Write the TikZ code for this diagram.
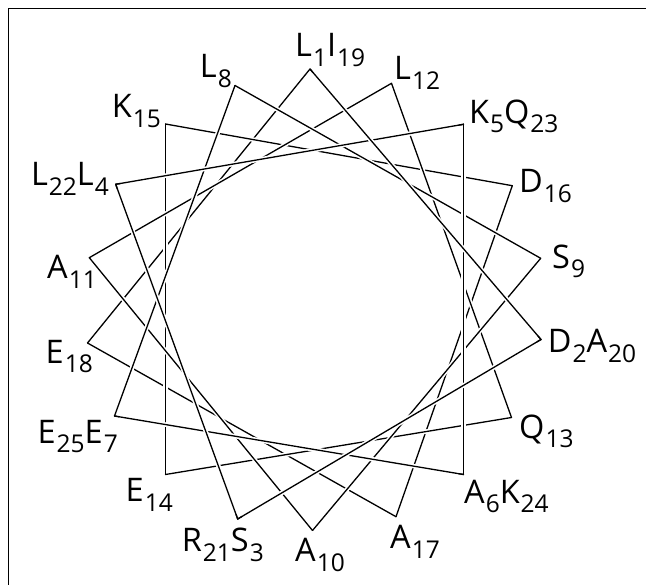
\documentclass[tikz,border=0pt]{standalone}
\usepackage{fontspec}
\setmainfont{Open Sans}
\newcommand\sbs[1]{\kern1pt\raisebox{-9.7pt}{\fontsize{24.5}{25}\selectfont #1}}
\begin{document}
\begin{tikzpicture}[x=1pt,y=-1pt,
  halo/.style={white,line width=4.5pt,shorten >=5pt,shorten <=5pt},
  seg/.style={black,line width=1.3pt,line cap=round},
  lbl/.style={inner sep=0pt,font=\fontsize{32.5}{33}\selectfont},
  frame/.style={black,line width=1pt}]
\useasboundingbox (0,0) rectangle (646,585);
\fill[white] (0,0) rectangle (646,585);
\draw[frame] (8.5,585) -- (8.5,9) -- (646,9);
% helix positions
\coordinate (p1) at (310,69);
\coordinate (p2) at (541,339.5);
\coordinate (p3) at (237.7,519);
\coordinate (p4) at (115.7,184.3);
\coordinate (p5) at (463.5,124.3);
\coordinate (p6) at (463.5,474.5);
\coordinate (p7) at (114.5,416);
\coordinate (p8) at (235,85.5);
\coordinate (p9) at (540.7,258.3);
\coordinate (p10) at (312.5,530.5);
\coordinate (p11) at (89.3,257.7);
\coordinate (p12) at (391.5,83.3);
\coordinate (p13) at (511.5,417.5);
\coordinate (p14) at (165.5,474.5);
\coordinate (p15) at (165.5,124);
\coordinate (p16) at (512.3,185.7);
\coordinate (p17) at (396,516.7);
\coordinate (p18) at (87.5,343);
% connections residue r -> r+1, earlier residues on top
\foreach \r in {24,23,...,1}{
  \pgfmathtruncatemacro\pa{mod(\r-1,18)+1}
  \pgfmathtruncatemacro\pb{mod(\r,18)+1}
  \draw[halo] (p\pa) -- (p\pb);
  \draw[seg] (p\pa) -- (p\pb);
}
% labels
\node[lbl,anchor=base west] (l1) at (295,56.7) {L\sbs{1}I\sbs{19}};
\node[lbl,anchor=base east] (l8) at (232,78) {L\sbs{8}};
\node[lbl,anchor=base west] (l12) at (394,80) {L\sbs{12}};
\node[lbl,anchor=base east] (l15) at (161,118) {K\sbs{15}};
\node[lbl,anchor=base west] (l5) at (469,123.3) {K\sbs{5}Q\sbs{23}};
\node[lbl,anchor=base east] (l4) at (109,186) {L\sbs{22}L\sbs{4}};
\node[lbl,anchor=base west] (l16) at (519,192.7) {D\sbs{16}};
\node[lbl,anchor=base east] (l11) at (97,279) {A\sbs{11}};
\node[lbl,anchor=base west] (l9) at (552,268.3) {S\sbs{9}};
\node[lbl,anchor=base east] (l18) at (93,363.3) {E\sbs{18}};
\node[lbl,anchor=base west] (l2) at (547.7,352.7) {D\sbs{2}A\sbs{20}};
\node[lbl,anchor=base east] (l7) at (118,443.3) {E\sbs{25}E\sbs{7}};
\node[lbl,anchor=base west] (l13) at (519,438.3) {Q\sbs{13}};
\node[lbl,anchor=base east] (l14) at (173,501.7) {E\sbs{14}};
\node[lbl,anchor=base west] (l6) at (464,503.3) {A\sbs{6}K\sbs{24}};
\node[lbl,anchor=base east] (l3) at (264,551.7) {R\sbs{21}S\sbs{3}};
\node[lbl,anchor=base west] (l17) at (390,548.3) {A\sbs{17}};
\node[lbl,anchor=base west] (l10) at (295,561.7) {A\sbs{10}};
\end{tikzpicture}
\end{document}
